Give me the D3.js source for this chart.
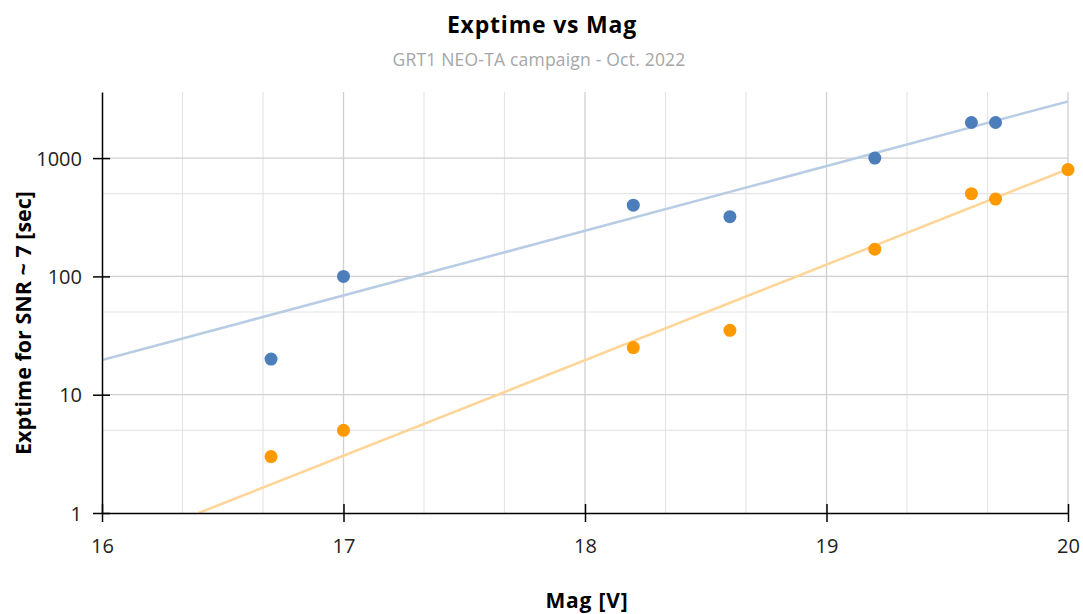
<!DOCTYPE html>
<html>
<head>
<meta charset="utf-8">
<script src="https://cdn.jsdelivr.net/npm/d3@7"></script>
<style>
  body { margin: 0; background: #fff; }
  text { font-family: "Open Sans", sans-serif; }
</style>
</head>
<body>
<div id="chart"></div>
<script>
// Data
const magBlue = [16.7, 17, 18.2, 18.6, 19.2, 19.6, 19.7];
const expBlue = [20, 100, 400, 320, 1000, 2000, 2000];
const magOrange = [16.7, 17, 18.2, 18.6, 19.2, 19.6, 19.7, 20];
const expOrange = [3, 5, 25, 35, 170, 500, 450, 800];
// exponential trendlines (two ends each, in data units)
const trendBlue = [[16, 19.6], [20, 3015]];
const trendOrange = [[16.4, 1], [20, 807]];
const xTicks = [16, 17, 18, 19, 20];
const yTicks = [1, 10, 100, 1000];
const yMinor = [5, 50, 500];

const W = 1083, H = 614;
const margin = { top: 92, right: 15, bottom: 101, left: 102 },
    width = 1068 - margin.left,
    height = 513 - margin.top;

const svg = d3.select("#chart").append("svg")
    .attr("width", W)
    .attr("height", H);

const g = svg.append("g")
    .attr("transform", `translate(${margin.left},${margin.top})`);

const x = d3.scaleLinear().domain([16, 20]).range([0, width]);
const y = d3.scaleLog().domain([1, 3620]).range([height, 0]);

// minor vertical grid every 1/3 mag
const xMinor = [];
for (let i = 0; i < 12; i++) if (i % 3 !== 0) xMinor.push(16 + i / 3);

g.selectAll(".vminor").data(xMinor).enter().append("line")
    .attr("x1", d => x(d)).attr("x2", d => x(d))
    .attr("y1", 0).attr("y2", height)
    .attr("stroke", "#e5e5e5").attr("stroke-width", 1.2);

g.selectAll(".hminor").data(yMinor).enter().append("line")
    .attr("x1", 0).attr("x2", width)
    .attr("y1", d => y(d)).attr("y2", d => y(d))
    .attr("stroke", "#e5e5e5").attr("stroke-width", 1.2);

g.selectAll(".vmajor").data(xTicks.slice(1)).enter().append("line")
    .attr("x1", d => x(d)).attr("x2", d => x(d))
    .attr("y1", 0).attr("y2", height)
    .attr("stroke", "#d0d0d0").attr("stroke-width", 1.3);

g.selectAll(".hmajor").data(yTicks.slice(1)).enter().append("line")
    .attr("x1", 0).attr("x2", width)
    .attr("y1", d => y(d)).attr("y2", d => y(d))
    .attr("stroke", "#d0d0d0").attr("stroke-width", 1.3);

// clip for trendlines
svg.append("clipPath").attr("id", "plotclip")
    .append("rect").attr("width", width).attr("height", height);

const line = d3.line().x(d => x(d[0])).y(d => y(d[1]));

g.append("path").datum(trendBlue)
    .attr("clip-path", "url(#plotclip)")
    .attr("d", line).attr("fill", "none")
    .attr("stroke", "#b8cce4").attr("stroke-width", 2.5);

g.append("path").datum(trendOrange)
    .attr("clip-path", "url(#plotclip)")
    .attr("d", line).attr("fill", "none")
    .attr("stroke", "#ffd597").attr("stroke-width", 2.5);

// axes
const xAxis = g.append("g")
    .attr("transform", `translate(0,${height})`)
    .call(d3.axisBottom(x).tickValues(xTicks).tickFormat(d3.format("d")).tickSize(9).tickSizeOuter(0));
xAxis.select(".domain").attr("stroke", "#000").attr("stroke-width", 1.5);
xAxis.selectAll(".tick line").attr("y1", -9).attr("stroke-width", 1.5);
xAxis.selectAll(".tick text")
    .attr("y", 40).attr("dy", 0)
    .attr("font-size", 20).attr("fill", "#222")
    .style("font-family", "'Open Sans', sans-serif");

const yAxis = g.append("g")
    .call(d3.axisLeft(y).tickValues(yTicks).tickFormat(d3.format("d")).tickSize(9).tickSizeOuter(0));
yAxis.select(".domain").attr("stroke", "#000").attr("stroke-width", 1.5);
yAxis.selectAll(".tick line").attr("x2", 8).attr("x1", -9).attr("stroke-width", 1.5);
yAxis.selectAll(".tick text")
    .attr("x", -20).attr("dy", "0.35em")
    .attr("font-size", 20).attr("fill", "#222")
    .style("font-family", "'Open Sans', sans-serif");

// points
g.selectAll(".dotB").data(magBlue).enter().append("circle")
    .attr("cx", d => x(d))
    .attr("cy", (d, i) => y(expBlue[i]))
    .attr("r", 6.5)
    .attr("fill", "#4d7ebc");

g.selectAll(".dotO").data(magOrange).enter().append("circle")
    .attr("cx", d => x(d))
    .attr("cy", (d, i) => y(expOrange[i]))
    .attr("r", 6.5)
    .attr("fill", "#ff9900");

// titles
svg.append("text")
    .attr("x", 542).attr("y", 33)
    .attr("text-anchor", "middle")
    .attr("font-size", 23).attr("font-weight", "bold")
    .attr("letter-spacing", 0.8)
    .attr("fill", "#000")
    .text("Exptime vs Mag");

svg.append("text")
    .attr("x", 539).attr("y", 66)
    .attr("text-anchor", "middle")
    .attr("font-size", 17.5)
    .attr("letter-spacing", 0.2)
    .attr("fill", "#a6a6a6")
    .text("GRT1 NEO-TA campaign - Oct. 2022");

svg.append("text")
    .attr("x", 587).attr("y", 608)
    .attr("text-anchor", "middle")
    .attr("font-size", 21).attr("font-weight", "bold")
    .attr("letter-spacing", 0.8)
    .attr("fill", "#000")
    .text("Mag [V]");

svg.append("text")
    .attr("transform", "translate(31,323) rotate(-90)")
    .attr("text-anchor", "middle")
    .attr("font-size", 21.5).attr("font-weight", "bold")
    .attr("fill", "#000")
    .text("Exptime for SNR ~ 7 [sec]");
</script>
</body>
</html>
